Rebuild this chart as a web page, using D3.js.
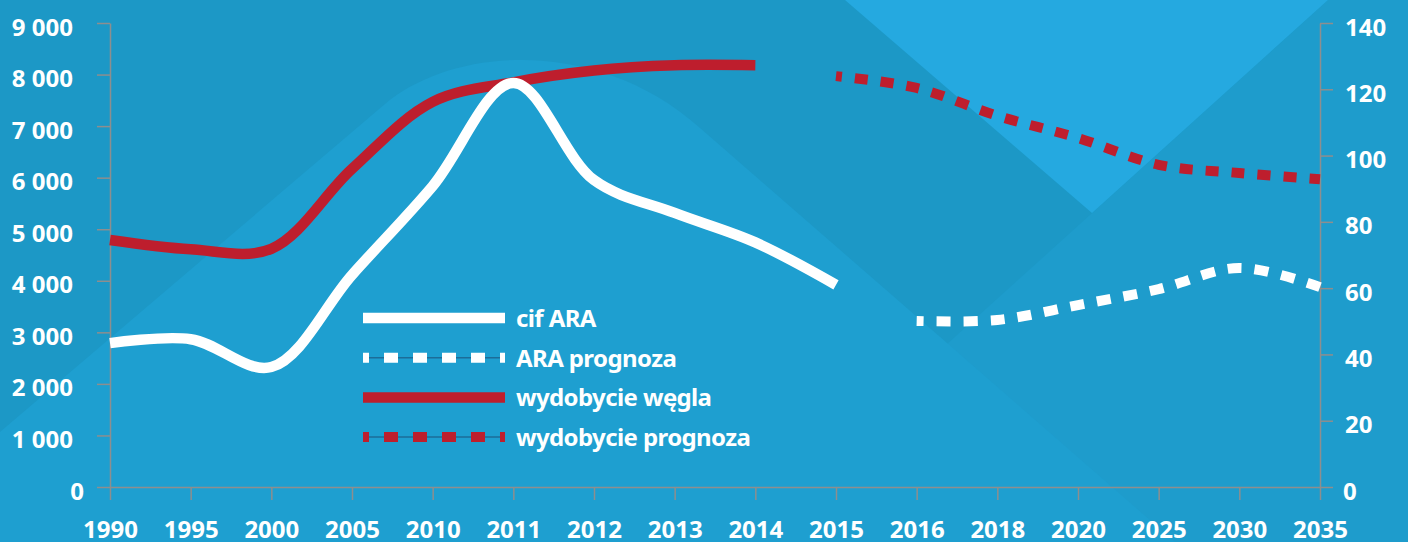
<!DOCTYPE html>
<html>
<head>
<meta charset="utf-8">
<script src="https://cdn.jsdelivr.net/npm/d3@7"></script>
<style>
  html, body { margin: 0; padding: 0; background: #1e9ccc; }
  svg { display: block; }
  text { font-family: "Noto Sans", "DejaVu Sans", sans-serif; font-weight: 700; fill: #fff; }
</style>
</head>
<body>
<div id="chart"></div>
<script>
var width = 1408;
var height = 542;

// categories on the x axis (not evenly spaced in time, just in order)
var years = ["1990", "1995", "2000", "2005", "2010", "2011", "2012", "2013",
             "2014", "2015", "2016", "2018", "2020", "2025", "2030", "2035"];

// world coal production, left axis
var coalYears = ["1990", "1995", "2000", "2005", "2010", "2011", "2012", "2013", "2014"];
var coalValues = [4790, 4610, 4620, 6170, 7470, 7850, 8080, 8180, 8180];
var coalForecastYears = ["2015", "2016", "2018", "2020", "2025", "2030", "2035"];
var coalForecastValues = [7970, 7740, 7200, 6770, 6250, 6090, 5970];

// cif ARA price, right axis
var araYears = ["1990", "1995", "2000", "2005", "2010", "2011", "2012", "2013", "2014", "2015"];
var araValues = [43.4, 44.6, 36.2, 64.0, 90.8, 121.9, 92.6, 82.7, 73.8, 61.0];
var araForecastYears = ["2016", "2018", "2020", "2025", "2030", "2035"];
var araForecastValues = [50.1, 50.4, 54.9, 59.7, 66.1, 60.3];

var leftTicks = [0, 1000, 2000, 3000, 4000, 5000, 6000, 7000, 8000, 9000];
var rightTicks = [0, 20, 40, 60, 80, 100, 120, 140];

var legendLabels = ["cif ARA", "ARA prognoza", "wydobycie węgla", "wydobycie prognoza"];

var red = "#be1e2d";
var white = "#ffffff";
var axisGrey = "#8e8e8e";

var svg = d3.select("#chart").append("svg")
        .attr("width", width)
        .attr("height", height);

// background decoration
svg.append("rect").attr("width", width).attr("height", height).attr("fill", "#1e9ccc");
svg.append("path")
        .attr("d", "M0,0 L1328,0 L728,542 L0,542 Z")
        .attr("fill", "#1c98c6");
svg.append("path")
        .attr("d", "M0,432 L385,104 C455,45 600,38 700,128 L947,343 L1175,542 L0,542 Z")
        .attr("fill", "#1e9fd0");
svg.append("path")
        .attr("d", "M845,0 L1328,0 L1092,213 Z")
        .attr("fill", "#25a9e0");

var x = d3.scalePoint().domain(years).range([110, 1320]);
var yLeft = d3.scaleLinear().domain([0, 9000]).range([487, 23]);
var yRight = d3.scaleLinear().domain([0, 140]).range([487, 23]);

var fmt = d3.formatLocale({decimal: ",", thousands: "\u00a0", grouping: [3], currency: ["", ""]}).format(",d");

function styleAxis(g) {
    g.select(".domain").attr("stroke", axisGrey).attr("stroke-width", 1.5);
    g.selectAll(".tick line").attr("stroke", axisGrey).attr("stroke-width", 1.5);
    g.selectAll(".tick text").style("font-size", "24px").attr("fill", "#fff");
}

var gx = svg.append("g")
        .attr("transform", "translate(0,487)")
        .call(d3.axisBottom(x).tickSize(13).tickSizeOuter(0));
styleAxis(gx);
gx.selectAll(".tick text").attr("y", 51).attr("dy", 0);

var gl = svg.append("g")
        .attr("transform", "translate(110,0)")
        .call(d3.axisLeft(yLeft).tickValues(leftTicks).tickFormat(fmt).tickSize(13).tickSizeOuter(0));
styleAxis(gl);
gl.selectAll(".tick text")
        .attr("x", function (d) { return d === 0 ? -26 : -37; })
        .attr("y", 12).attr("dy", 0);

var gr = svg.append("g")
        .attr("transform", "translate(1320,0)")
        .call(d3.axisRight(yRight).tickValues(rightTicks).tickSize(13).tickSizeOuter(0));
styleAxis(gr);
gr.selectAll(".tick text")
        .attr("x", function (d) { return d === 0 ? 23 : 25; })
        .attr("y", 12).attr("dy", 0);

// lines
var curve = d3.curveCatmullRom.alpha(0.5);

function drawLine(cats, vals, yScale, color, dash, offset) {
    var pts = cats.map(function (c, i) { return [x(c), yScale(vals[i])]; });
    var p = svg.append("path")
            .datum(pts)
            .attr("fill", "none")
            .attr("stroke", color)
            .attr("stroke-width", dash ? 10 : 10.5)
            .attr("d", d3.line().curve(curve));
    if (dash) {
        p.attr("stroke-dasharray", dash).attr("stroke-dashoffset", offset);
    }
    return p;
}

drawLine(coalYears, coalValues, yLeft, red, null, 0);
drawLine(araYears, araValues, yRight, white, null, 0);
drawLine(coalForecastYears, coalForecastValues, yLeft, red, "13,13", 7);
drawLine(araForecastYears, araForecastValues, yRight, white, "14,13", 7);

// legend
var legend = svg.append("g").attr("transform", "translate(363,318)");
var legendColors = [white, white, red, red];
var legendDashed = [false, true, false, true];

legendLabels.forEach(function (label, i) {
    var row = legend.append("g").attr("transform", "translate(0," + (i * 39.7) + ")");
    if (legendDashed[i]) {
        row.append("line")
                .attr("x1", 0).attr("x2", 142)
                .attr("stroke", "#1c6d98").attr("stroke-width", 1.5);
        row.append("line")
                .attr("x1", 0).attr("x2", 142)
                .attr("stroke", legendColors[i]).attr("stroke-width", 10)
                .attr("stroke-dasharray", "14,15").attr("stroke-dashoffset", 8);
    } else {
        row.append("line")
                .attr("x1", 0).attr("x2", 142)
                .attr("stroke", legendColors[i]).attr("stroke-width", 10.5);
    }
    row.append("text")
            .attr("x", 153)
            .attr("y", 9)
            .style("font-size", "24px")
            .style("letter-spacing", "-0.6px")
            .text(label);
});
</script>
</body>
</html>
